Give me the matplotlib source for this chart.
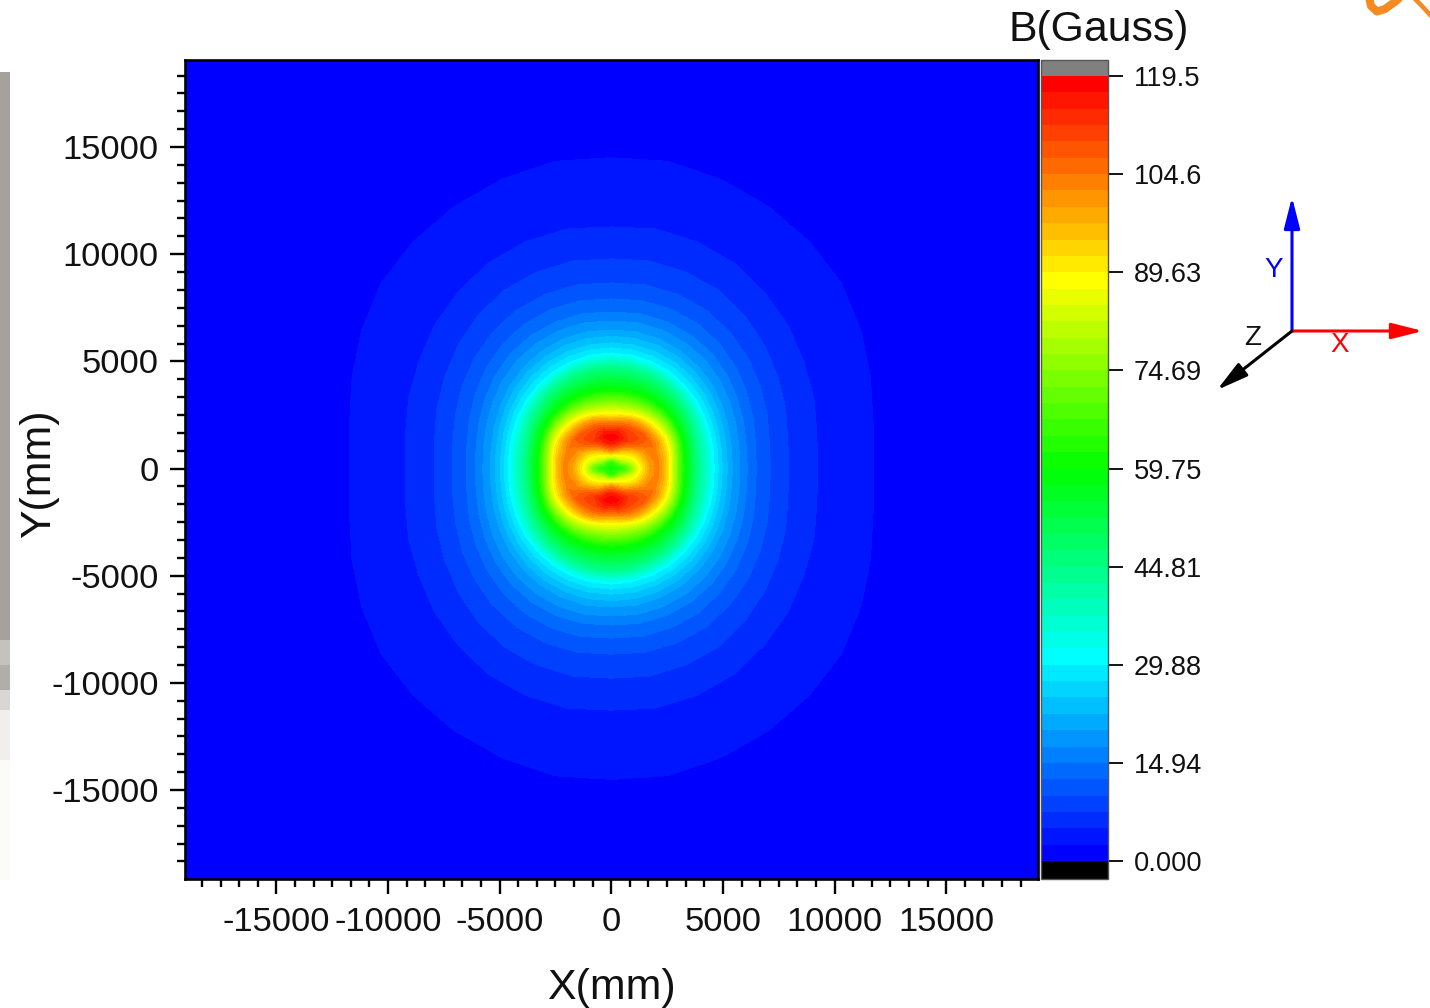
import numpy as np
import matplotlib
matplotlib.use("Agg")
import matplotlib.pyplot as plt
from matplotlib.colors import ListedColormap, BoundaryNorm
from matplotlib.cm import ScalarMappable
from matplotlib.patches import FancyArrowPatch, Rectangle
from matplotlib.ticker import FixedLocator

plt.rcParams['font.family'] = ['Liberation Sans', 'DejaVu Sans']
plt.rcParams['axes.unicode_minus'] = False

# ---- data -----------------------------------------------------------------
ray_angles_deg = [0, 10, 20, 30, 40, 50, 60, 70, 80, 90]

# B (Gauss) at fixed radius (mm) along each ray, central region
core_radii = [0, 300, 600, 900, 1200, 1500, 1800, 2100, 2400]
core_B = [
    [60, 60, 60, 60, 60, 60, 60, 60, 60, 60],
    [63, 63, 64, 65, 65, 65, 65, 64, 64, 64],
    [66, 67, 72, 78, 80, 84, 86, 86, 87, 88],
    [74, 77, 82, 86, 88, 91, 94, 99, 103, 105],
    [86, 87, 89, 91, 95, 100, 105, 110, 114, 116],
    [93, 94, 96, 98, 103, 108, 112, 115, 118, 119.4],
    [101, 101, 102, 103, 107, 110, 111, 112, 114, 113],
    [103, 103, 103, 105, 107, 108, 107, 107, 106, 105],
    [96, 97, 97, 100, 100, 100, 100, 99, 96, 93],
]

# radius (mm) of the contour of each B value along each ray, outer region
ring_B = [89, 75, 60, 45, 29.88, 24.9, 19.92, 14.94, 12.45, 9.96, 7.47, 4.98, 2.49, 0.5]
ring_radii = [
    [2600, 2640, 2720, 2780, 2780, 2760, 2720, 2640, 2570, 2540],
    [2900, 2950, 3050, 3140, 3180, 3180, 3150, 3100, 3070, 3060],
    [3270, 3310, 3400, 3500, 3580, 3630, 3660, 3670, 3670, 3660],
    [3850, 3880, 3980, 4120, 4280, 4420, 4540, 4620, 4680, 4700],
    [4610, 4640, 4720, 4840, 4970, 5090, 5210, 5300, 5370, 5390],
    [4970, 5000, 5100, 5250, 5420, 5570, 5700, 5790, 5850, 5860],
    [5420, 5460, 5580, 5750, 5950, 6130, 6290, 6400, 6470, 6460],
    [6090, 6140, 6300, 6520, 6770, 7000, 7170, 7280, 7330, 7300],
    [6490, 6560, 6760, 7020, 7300, 7560, 7780, 7900, 7950, 7910],
    [7120, 7200, 7420, 7700, 8000, 8280, 8520, 8650, 8700, 8660],
    [7930, 8030, 8300, 8600, 8950, 9300, 9600, 9750, 9830, 9780],
    [9225, 9350, 9650, 9950, 10350, 10700, 11050, 11250, 11350, 11270],
    [11730, 11900, 12350, 12900, 13450, 13800, 14100, 14350, 14550, 14500],
    [30000, 30000, 30000, 30000, 30000, 30000, 30000, 30000, 30000, 30000],
]

B_max = 119.5
band_count = 48
major_ticks = [-15000, -10000, -5000, 0, 5000, 10000, 15000]
major_labels = ['-15000', '-10000', '-5000', '0', '5000', '10000', '15000']
cbar_ticks = [0.0, 14.94, 29.88, 44.81, 59.75, 74.69, 89.63, 104.6, 119.5]
cbar_labels = ['0.000', '14.94', '29.88', '44.81', '59.75', '74.69', '89.63', '104.6', '119.5']

# ---- assemble the full mesh by mirroring the quadrant ------------------------
W, H = 1430, 1008
radii_q = np.vstack([np.repeat(np.array(core_radii, float)[:, None], 10, axis=1),
                     np.array(ring_radii, float)])
B_q = np.vstack([np.array(core_B, float),
                 np.repeat(np.array(ring_B, float)[:, None], 10, axis=1)])
mirror = np.r_[np.arange(0, 10), np.arange(8, -1, -1), np.arange(1, 10), np.arange(8, -1, -1)]
theta = np.deg2rad(np.arange(0, 370, 10))
R = radii_q[:, mirror]
Z = B_q[:, mirror]
X = R * np.cos(theta)
Y = R * np.sin(theta)

# ---- colours -----------------------------------------------------------------
t = np.arange(band_count)
nodes = [0, 12, 23.5, 35, 47]
cols = np.c_[np.interp(t, nodes, [0, 0, 0, 1, 1]),
             np.interp(t, nodes, [0, 1, 1, 1, 0]),
             np.interp(t, nodes, [1, 1, 0, 0, 0])]
cmap = ListedColormap(cols)
cmap.set_under('#000000')
cmap.set_over('#808080')
levels = np.linspace(0, B_max, band_count + 1)
norm = BoundaryNorm(levels, band_count)

# ---- figure --------------------------------------------------------------------
fig = plt.figure(figsize=(W / 100, H / 100), dpi=100, facecolor='white')


def px_rect(l, t_, r, b):
    return [l / W, 1 - b / H, (r - l) / W, (b - t_) / H]


ov = fig.add_axes([0, 0, 1, 1], zorder=5)
ov.set_xlim(0, W)
ov.set_ylim(H, 0)
ov.axis('off')
ov.patch.set_alpha(0)

ax = fig.add_axes(px_rect(185, 60, 1038, 879), zorder=2)
ax.set_facecolor((0, 0, 1))
ax.contourf(X, Y, Z, levels=levels, cmap=cmap, norm=norm)
ax.set_xlim(-19090, 19110)
ax.set_ylim(-19150, 19060)
for s in ax.spines.values():
    s.set_linewidth(1.9)
ax.set_xticks(major_ticks)
ax.set_xticklabels(major_labels)
ax.set_yticks(major_ticks)
ax.set_yticklabels(major_labels)
minor = [k * 5000 / 6 for k in range(-22, 23) if k % 6 != 0]
ax.xaxis.set_minor_locator(FixedLocator(minor))
ax.yaxis.set_minor_locator(FixedLocator(minor))
ax.tick_params(which='major', length=11, width=1.7, labelsize=24.8, pad=9.5, direction='out',
               labelcolor='#111111')
ax.tick_params(which='minor', length=5.5, width=1.7, direction='out')
ax.tick_params(axis='y', which='major', pad=8)

# colour bar
cax = fig.add_axes(px_rect(1041, 60, 1108, 879), zorder=2)
cb = fig.colorbar(ScalarMappable(norm=norm, cmap=cmap), cax=cax, extend='both',
                  extendrect=True, extendfrac=[18 / 785, 16 / 785],
                  spacing='proportional', ticks=cbar_ticks)
cb.set_ticklabels(cbar_labels)
cb.minorticks_off()
cb.outline.set_edgecolor('#555555')
cb.outline.set_linewidth(1.0)
cax.tick_params(length=11, width=1.3, labelsize=19.6, pad=7.5, labelcolor='#111111')

# titles
ov.text(1099, 30, 'B(Gauss)', fontsize=30.8, ha='center', va='center', color='#111111')
ov.text(611, 988, 'X(mm)', fontsize=30.9, ha='center', va='center', color='#111111')
ov.text(39, 474, 'Y(mm)', fontsize=30.9, ha='center', va='center', rotation=90, color='#111111')


# coordinate triad
def arrow(x1, y1, color):
    ov.add_patch(FancyArrowPatch((1292, 331), (x1, y1), color=color, lw=2.2,
                                 arrowstyle='-|>,head_length=19,head_width=4.8',
                                 mutation_scale=1, shrinkA=0, shrinkB=0))


arrow(1292, 197, (0, 0, 1))
arrow(1423, 331, (1, 0, 0))
arrow(1217, 390, 'black')
ov.text(1274, 270, 'Y', color=(0, 0, 1), fontsize=20, ha='center', va='center')
ov.text(1340, 345, 'X', color=(1, 0, 0), fontsize=20, ha='center', va='center')
ov.text(1253, 338, 'Z', color='#111111', fontsize=20, ha='center', va='center')

# cropped neighbours at the picture edges
ov.add_patch(Rectangle((0, 72), 10, 568, fc='#a5a19c', ec='none'))
for y0, y1, c in [(640, 665, '#c4c2be'), (665, 690, '#b0aeaa'), (690, 710, '#d8d7d5'),
                  (710, 760, '#f0efee'), (760, 880, '#fbfbfa')]:
    ov.add_patch(Rectangle((0, y0), 10, y1 - y0, fc=c, ec='none'))
ov.plot([1369, 1371, 1377, 1385, 1396, 1402], [-3, 6, 11.5, 9, 1, -4], color='#f58a1f',
        lw=5.8, solid_capstyle='round')
ov.plot([1413, 1422, 1432], [-3, 6, 17], color='#f58a1f', lw=3.2, solid_capstyle='round')

fig.savefig('out.png', dpi=100, facecolor='white')
